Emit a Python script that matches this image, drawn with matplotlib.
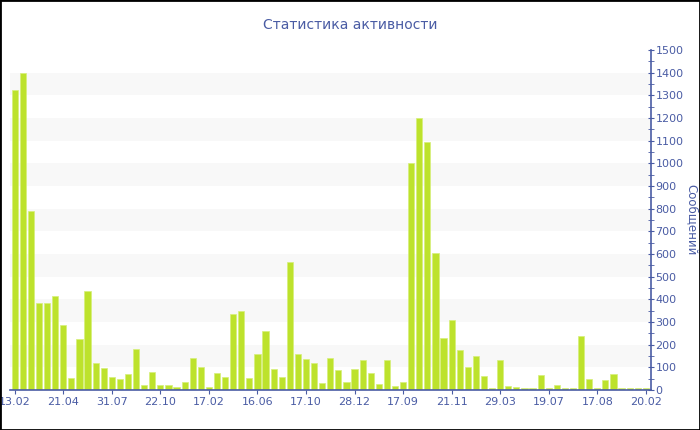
import matplotlib
matplotlib.use("Agg")
import matplotlib.pyplot as plt
from matplotlib.patches import Rectangle
from matplotlib.ticker import MultipleLocator

# данные
titulo = "Статистика активности"
etiqueta_y = "Сообщений"
mensajes = [1325, 1400, 790, 385, 386, 415, 287, 51, 227, 437,
            118, 97, 56, 50, 71, 182, 24, 81, 21, 22,
            15, 35, 143, 103, 13, 74, 57, 334, 349, 53,
            160, 259, 93, 57, 566, 160, 135, 118, 32, 140,
            87, 34, 93, 132, 74, 25, 131, 18, 35, 1003,
            1199, 1093, 605, 229, 309, 177, 103, 150, 62, 9,
            131, 19, 13, 10, 9, 66, 7, 22, 10, 9,
            240, 50, 10, 44, 71, 9, 7, 7, 7]
fechas = ["13.02", "21.04", "31.07", "22.10", "17.02", "16.06", "17.10",
          "28.12", "17.09", "21.11", "29.03", "19.07", "17.08", "20.02"]
paso_fechas = 6

azul = "#4a5ca4"
verde = "#bde22c"

fig = plt.figure(figsize=(7, 4.3), dpi=100)
ax = fig.add_axes([10/700, 40/430, 640.7/700, 340/430])

#bandas grises alternadas
for y0 in range(100, 1500, 200):
    ax.axhspan(y0, y0 + 100, color="#f8f8f8", zorder=0, lw=0)

x = list(range(len(mensajes)))
ax.bar(x, mensajes, width=0.76, color=verde, edgecolor="#d6ef7a", linewidth=0.5, zorder=2)

ax.set_xlim(-0.58, len(mensajes) - 0.4)
ax.set_ylim(0, 1500)

ax.set_xticks(x[::paso_fechas])
ax.set_xticklabels(fechas)
ax.yaxis.tick_right()
ax.yaxis.set_label_position("right")
ax.yaxis.set_major_locator(MultipleLocator(100))
ax.yaxis.set_minor_locator(MultipleLocator(50))

for s in ("top", "left"):
    ax.spines[s].set_visible(False)
for s in ("bottom", "right"):
    ax.spines[s].set_color(azul)
    ax.spines[s].set_linewidth(1.2)

ax.tick_params(axis="x", colors=azul, labelsize=8, length=3, pad=2)
ax.tick_params(axis="y", which="major", colors=azul, labelsize=8, length=5, direction="inout", pad=1)
ax.tick_params(axis="y", which="minor", colors=azul, length=4, direction="inout")

ax.set_ylabel(etiqueta_y, color=azul, fontsize=8.5, rotation=270, labelpad=10.5)
fig.text(0.5, 1 - 25/430, titulo, color=azul, fontsize=10, ha="center", va="center")

# marco negro de la figura
fig.patches.append(Rectangle((0, 0), 1, 1, transform=fig.transFigure,
                             fill=False, edgecolor="black", linewidth=2))

fig.savefig("out.png", dpi=100)
